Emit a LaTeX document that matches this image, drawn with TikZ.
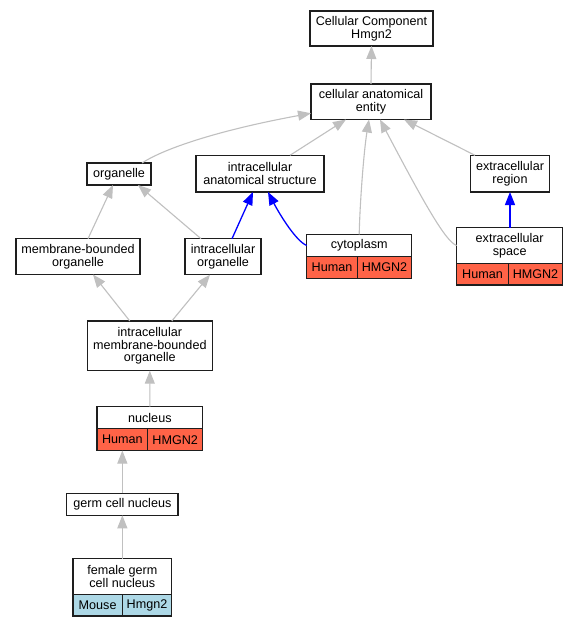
\documentclass[tikz,border=0pt]{standalone}
\usepackage{fontspec}
\setmainfont{Liberation Sans}
\usetikzlibrary{arrows.meta}
\definecolor{tomatoc}{RGB}{255,99,71}
\definecolor{lblue}{RGB}{173,216,230}
\definecolor{edgegray}{RGB}{192,192,192}
\definecolor{boxline}{RGB}{30,30,30}
\begin{document}
\begin{tikzpicture}[x=1pt,y=-1pt,
  box/.style={draw=boxline, line width=1.05pt, fill=white, inner sep=0pt, outer sep=0pt, align=center,
    font=\fontsize{12.6}{12.6}\selectfont},
  hcell/.style={box, fill=tomatoc, minimum height=21.7pt},
  mcell/.style={box, fill=lblue, minimum height=21.7pt},
  gedge/.style={draw=edgegray, line width=1.1pt, -{Triangle[length=13pt,width=10pt]}},
  bedge/.style={draw=blue, line width=1.3pt, -{Triangle[length=13pt,width=10pt]}}]
\fill[white] (0,0) rectangle (577,627);
\useasboundingbox (0,0) rectangle (577,627);

% nodes
\node[box, minimum width=123pt, minimum height=35pt] (cc) at (371.5,28.5) {Cellular Component\\Hmgn2};
\node[box, minimum width=120pt, minimum height=35.5pt] (cae) at (371,101.75) {cellular anatomical\\entity};
\node[box, minimum width=64pt, minimum height=22pt] (org) at (119,174) {organelle};
\node[box, minimum width=128pt, minimum height=36.7pt] (ias) at (260,173.65) {intracellular\\anatomical structure};
\node[box, minimum width=79.3pt, minimum height=36.7pt] (er) at (510,173.65) {extracellular\\region};
\node[box, minimum width=124pt, minimum height=35.8pt] (mbo) at (78,256.6) {membrane-bounded\\organelle};
\node[box, minimum width=76pt, minimum height=36pt] (io) at (223,256.7) {intracellular\\organelle};

% cytoplasm table
\node[box, minimum width=105pt, minimum height=22.4pt] (cyto) at (359.2,245.5) {cytoplasm};
\node[hcell, minimum width=50.6pt] (cytoH) at (332,267.5) {Human};
\node[hcell, minimum width=54.4pt] (cytoG) at (384.5,267.5) {HMGN2};

% extracellular space table
\node[box, minimum width=106pt, minimum height=35.6pt] (es) at (509.7,245.5) {extracellular\\space};
\node[hcell, minimum width=51.6pt] (esH) at (482.5,274.15) {Human};
\node[hcell, minimum width=54.4pt] (esG) at (535.5,274.15) {HMGN2};

\node[box, minimum width=125pt, minimum height=49.7pt] (icmbo) at (149.8,345.85) {intracellular\\membrane-bounded\\organelle};

% nucleus table
\node[box, minimum width=105.7pt, minimum height=22pt] (nuc) at (149.85,417.7) {nucleus};
\node[hcell, minimum width=50.7pt] (nucH) at (122.35,439.7) {Human};
\node[hcell, minimum width=55pt] (nucG) at (175.2,439.7) {HMGN2};

\node[box, minimum width=111.3pt, minimum height=22pt] (gcn) at (122.35,504.3) {germ cell nucleus};

% female germ cell nucleus table
\node[box, minimum width=98.7pt, minimum height=35.6pt] (fgcn) at (122.35,576.5) {female germ\\cell nucleus};
\node[mcell, minimum width=49.3pt] (fgcnM) at (97.65,605.15) {Mouse};
\node[mcell, minimum width=49.4pt] (fgcnG) at (147,605.15) {Hmgn2};

% edges
\draw[gedge] (cae.north) -- (cc.south);
\draw[gedge] ([xshift=23pt]org.north) .. controls (165,148) and (220,130) .. ([yshift=-11.5pt]cae.west);
\draw[gedge] ([xshift=30pt]ias.north) -- ([xshift=-25pt]cae.south);
\draw[gedge] (cyto.north) .. controls (360,200) and (364,150) .. ([xshift=-2pt]cae.south);
\draw[gedge] (es.west) .. controls (446,242) and (425,205) .. ([xshift=9pt]cae.south);
\draw[gedge] ([xshift=-35pt]er.north) -- ([xshift=33pt]cae.south);
\draw[gedge] ([xshift=10pt]mbo.north) -- ([xshift=-6pt]org.south);
\draw[gedge] ([xshift=-22pt]io.north) -- ([xshift=19pt]org.south);
\draw[bedge] ([xshift=9pt]io.north) -- ([xshift=-7pt]ias.south);
\draw[bedge] (cyto.west) .. controls (296,241) and (280,215) .. ([xshift=8pt]ias.south);
\draw[bedge] ([xshift=0.3pt]es.north) -- (er.south);
\draw[gedge] ([xshift=-20pt]icmbo.north) -- ([xshift=15pt]mbo.south);
\draw[gedge] ([xshift=22pt]icmbo.north) -- ([xshift=-13pt]io.south);
\draw[gedge] (nuc.north) -- (icmbo.south);
\draw[gedge] (gcn.north) -- (nucH.south);
\draw[gedge] (fgcn.north) -- (gcn.south);
\end{tikzpicture}
\end{document}
